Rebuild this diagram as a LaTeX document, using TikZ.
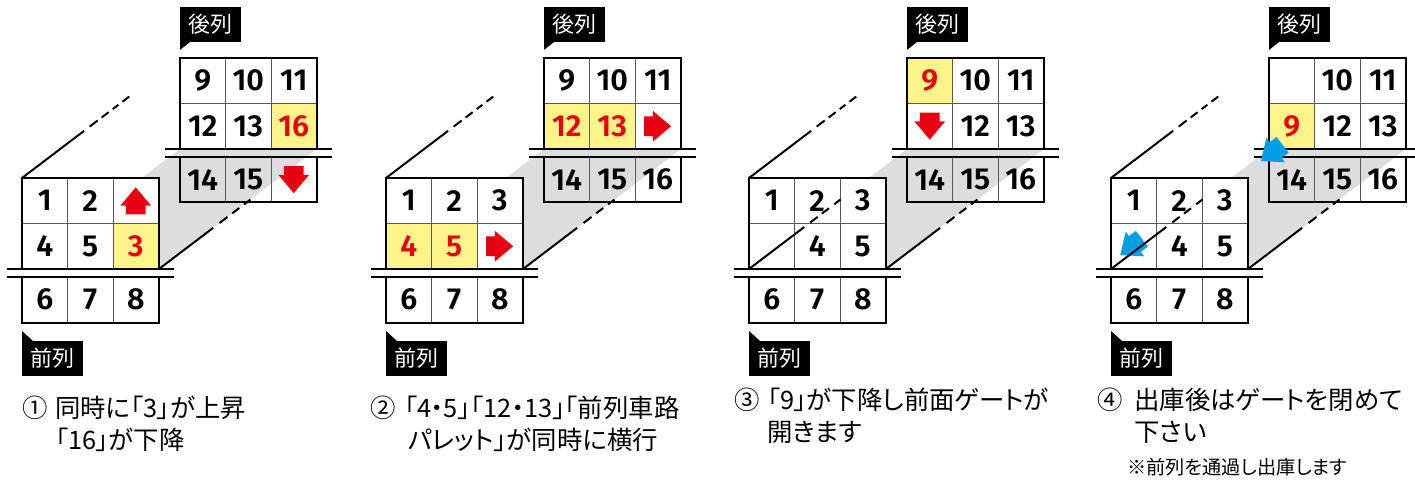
\documentclass[tikz,border=0pt]{standalone}
\usepackage{fontspec}
\newfontfamily\numfont[BoldFont={Fira Sans SemiBold}]{Fira Sans}
\newfontfamily\jpfont[RawFeature=+palt]{Noto Sans CJK JP}
\usetikzlibrary{shapes.arrows,calc}
\definecolor{hitred}{HTML}{E60012}
\definecolor{hityellow}{HTML}{FFF48A}
\definecolor{gateblue}{HTML}{009FE3}
\definecolor{shadegray}{HTML}{DCDDDD}
\tikzset{
    cell/.style={draw=black!65, line width=0.5pt, minimum width=22.75pt, minimum height=22.75pt, inner sep=0pt, outer sep=0pt, font=\numfont\bfseries\fontsize{15.2}{15.2}\selectfont},
    plain/.style={},
    hit/.style={fill=hityellow, text=hitred},
    outer/.style={line width=1pt},
    rail/.style={line width=1pt},
    tagbox/.style={fill=black, text=white, minimum width=30.5pt, minimum height=17.5pt, inner sep=0pt, outer sep=0pt, font=\jpfont\fontsize{11}{11}\selectfont},
    stepnote/.style={anchor=west, inner sep=0pt, font=\jpfont\fontsize{12.7}{16}\selectfont},
    blockarrow/.style={single arrow, draw=none, fill=#1, xshift=-3pt, minimum height=13.5pt, inner xsep=0pt, inner ysep=4.75pt, single arrow head extend=2.75pt, single arrow tip angle=80, outer sep=0pt},
}
% #1 prefix, #2 x of left edge, #3 y of top edge, #4 cell style, #5 cells
\newcommand{\cellgrid}[5]{
    \foreach \txt/\sty [count=\i from 0] in {#5} {
        \pgfmathtruncatemacro{\cx}{mod(\i,3)}
        \pgfmathtruncatemacro{\cy}{\i/3}
        \pgfmathsetmacro{\gap}{\cy==2 ? 8 : 0}
        \node [cell, #4, \sty] (#1\i) at ({#2+22.75+45.5*\cx}, {#3+22.75+45.5*\cy+\gap}) {\txt};
    }
    \draw [outer] (#10.north west) rectangle (#15.south east);
    \draw [outer] (#16.north west) rectangle (#18.south east);
}
% gray shade, rails and tags of one stage
\newcommand{\stagebase}[1]{
    \coordinate (#1fb) at (22,269);
    \coordinate (#1fc) at (159,269);
    \coordinate (#1bb) at (180,149);
    \coordinate (#1bc) at (317,149);
    \coordinate (#1ft) at (22,178);
    \coordinate (#1bt) at (180,58);
    \fill [shadegray] (#1fb) -- (#1bb) -- (#1bc) -- (#1fc) -- cycle;
}
\newcommand{\stagerails}[1]{
    \draw [rail] (7,269) -- (174,269);
    \draw [rail] (7,277) -- (174,277);
    \draw [rail] (165,149) -- (332,149);
    \draw [rail] (165,157) -- (332,157);
    \node [tagbox] (#1rear) at (210.5,24.5) {後列};
    \node [tagbox] (#1fore) at (52.5,358.5) {前列};
    \fill (#1rear.south west) -- ++(0,8) -- ++(10,-8) -- cycle;
    \fill (#1fore.north west) -- ++(0,-10) -- ++(11,10) -- cycle;
    \draw [outer, dash pattern=on 39pt off 3.5pt on 5pt off 2.5pt on 4.4pt off 2.6pt on 3.5pt off 2.6pt on 4.2pt off 40pt] (#1ft) -- ($(#1ft)!0.68!(#1bt)$);
    \draw [outer, dash pattern=on 34pt off 4pt on 5pt off 3pt on 4.4pt off 3pt on 4pt off 40pt] (#1fc) -- ($(#1fc)!0.585!(#1bc)$);
}
\newcommand{\seethrough}[1]{
    \draw [outer, dash pattern=on 34.7pt off 3.7pt on 4.7pt off 2.7pt on 4.4pt off 3.3pt on 4pt off 40pt] (#1fb) -- ($(#1fb)!0.585!(#1bb)$);
}
\begin{document}
\begin{tikzpicture}[x=0.5pt, y=-0.5pt]
    \useasboundingbox (0,0) rectangle (1415,481);
    % stage 1
    \begin{scope}[xshift=0pt]
        \stagebase{a}
        \cellgrid{ab}{180}{58}{}{9/plain,10/plain,11/plain,12/plain,13/plain,16/hit,14/plain,15/plain,{}/plain}
        \cellgrid{af}{22}{178}{fill=white}{1/plain,2/plain,{}/plain,4/plain,5/plain,3/hit,6/plain,7/plain,8/plain}
        \stagerails{a}
        \node [rotate=-90, blockarrow=hitred] (adown) at (ab8) {};
        \node [rotate=90, blockarrow=hitred] (aup) at (af2) {};
    \end{scope}
    \node [stepnote] (anum) at (22,408) {①};
    \node [stepnote] (atxt) at (55,408) {同時に「3」が上昇};
    \node [stepnote] (atxtb) at (55,440) {「16」が下降};
    % stage 2
    \begin{scope}[xshift=182pt]
        \stagebase{b}
        \cellgrid{bb}{180}{58}{}{9/plain,10/plain,11/plain,12/hit,13/hit,{}/plain,14/plain,15/plain,16/plain}
        \cellgrid{bf}{22}{178}{fill=white}{1/plain,2/plain,3/plain,4/hit,5/hit,{}/plain,6/plain,7/plain,8/plain}
        \stagerails{b}
        \node [blockarrow=hitred] (bright) at (bb5) {};
        \node [blockarrow=hitred] (bleft) at (bf5) {};
    \end{scope}
    \node [stepnote] (bnum) at (370,408) {②};
    \node [stepnote] (btxt) at (404,408) {「4・5」「12・13」「前列車路};
    \node [stepnote] (btxtb) at (408,440) {パレット」が同時に横行};
    % stage 3
    \begin{scope}[xshift=363.5pt]
        \stagebase{c}
        \cellgrid{cb}{180}{58}{}{9/hit,10/plain,11/plain,{}/plain,12/plain,13/plain,14/plain,15/plain,16/plain}
        \cellgrid{cf}{22}{178}{fill=white}{1/plain,2/plain,3/plain,{}/plain,4/plain,5/plain,6/plain,7/plain,8/plain}
        \stagerails{c}
        \seethrough{c}
        \node [rotate=-90, blockarrow=hitred] (cdown) at (cb3) {};
    \end{scope}
    \node [stepnote] (cnum) at (734,400) {③};
    \node [stepnote] (ctxt) at (767,400) {「9」が下降し前面ゲートが};
    \node [stepnote] (ctxtb) at (767,432) {開きます};
    % stage 4
    \begin{scope}[xshift=544.5pt]
        \stagebase{d}
        \cellgrid{db}{180}{58}{}{{}/plain,10/plain,11/plain,9/hit,12/plain,13/plain,14/plain,15/plain,16/plain}
        \cellgrid{df}{22}{178}{fill=white}{1/plain,2/plain,3/plain,{}/plain,4/plain,5/plain,6/plain,7/plain,8/plain}
        \stagerails{d}
        \node [rotate=217, blockarrow=gateblue] (dlow) at (42,247) {};
        \seethrough{d}
        \node [rotate=217, blockarrow=gateblue] (dhigh) at (182.7,153) {};
    \end{scope}
    \node [stepnote] (dnum) at (1097,400) {④};
    \node [stepnote] (dtxt) at (1134,400) {出庫後はゲートを閉めて};
    \node [stepnote] (dtxtb) at (1134,432) {下さい};
    \node [stepnote, font=\jpfont\fontsize{9.6}{10}\selectfont] (dnote) at (1127,467) {※前列を通過し出庫します};
\end{tikzpicture}
\end{document}
